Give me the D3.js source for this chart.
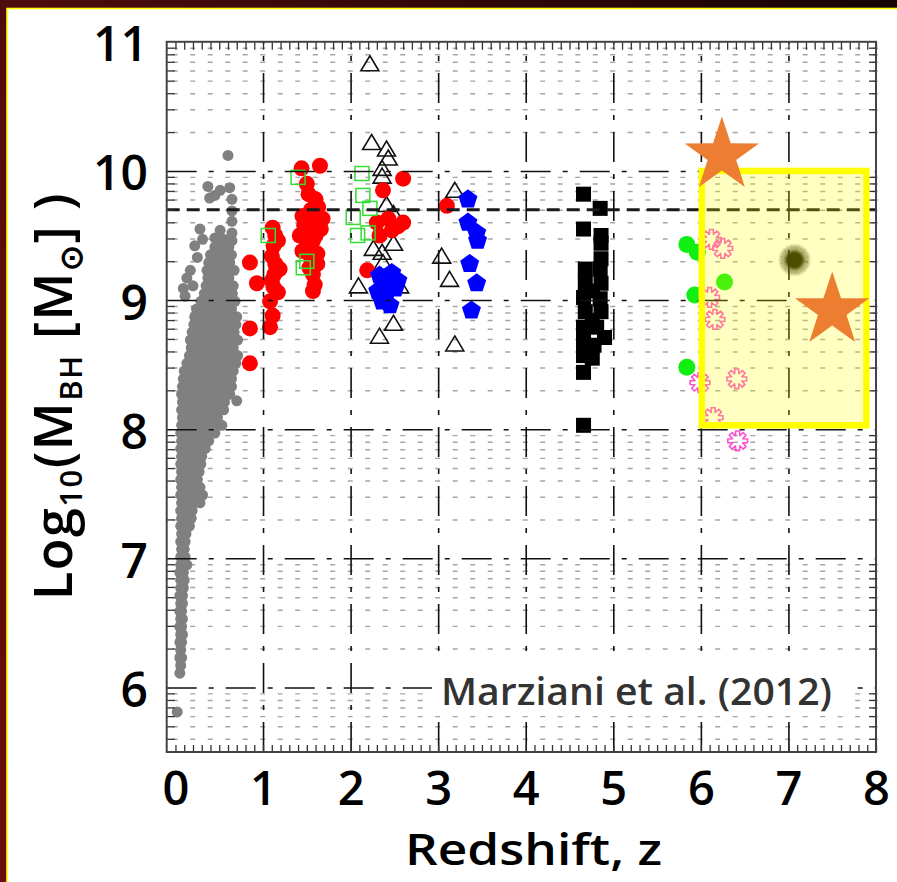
<!DOCTYPE html>
<html><head><meta charset="utf-8">
<script src="https://cdn.jsdelivr.net/npm/d3@7"></script>
<style>html,body{margin:0;padding:0;background:#fff;}svg{display:block}</style>
</head><body>
<svg id="chart" width="897" height="882"></svg>
<script>
// ---- tick labels ----
const xTickValues = [0, 1, 2, 3, 4, 5, 6, 7, 8];
const yTickValues = [6, 7, 8, 9, 10, 11];
const refMass = 9.7;

// ---- low-redshift quasar cloud: rows of [log M, [z, ...]] ----
const grayRows = [
  [6.11, [0.05]], [6.17, [0.06]], [6.23, [0.05, 0.07]], [6.29, [0.06]],
  [6.35, [0.05, 0.07]], [6.41, [0.06, 0.08]], [6.47, [0.05, 0.07]], [6.53, [0.06, 0.08]],
  [6.59, [0.05, 0.07]], [6.65, [0.06, 0.08]], [6.71, [0.05, 0.08]], [6.77, [0.06, 0.09]],
  [6.83, [0.06, 0.10]], [6.89, [0.05, 0.09]], [6.95, [0.06, 0.10, 0.13]], [7.01, [0.06, 0.11]],
  [7.07, [0.07, 0.10]], [7.13, [0.06, 0.11]], [7.19, [0.07, 0.12]], [7.25, [0.06, 0.11, 0.16]],
  [7.31, [0.07, 0.13, 0.18]], [7.37, [0.06, 0.12, 0.19]], [7.43, [0.07, 0.14, 0.21, 0.28]],
  [7.49, [0.06, 0.13, 0.20, 0.27, 0.31]], [7.55, [0.07, 0.14, 0.21, 0.28]],
  [7.61, [0.06, 0.12, 0.19, 0.25]], [7.67, [0.07, 0.14, 0.21, 0.27]],
  [7.73, [0.06, 0.13, 0.20, 0.29]], [7.79, [0.07, 0.14, 0.22, 0.30]],
  [7.85, [0.06, 0.13, 0.20, 0.27, 0.34]], [7.91, [0.07, 0.14, 0.22, 0.30, 0.38]],
  [7.97, [0.06, 0.13, 0.21, 0.29, 0.37, 0.45]], [8.03, [0.07, 0.15, 0.23, 0.31, 0.39, 0.47, 0.53]],
  [8.09, [0.08, 0.16, 0.24, 0.32, 0.40, 0.48]], [8.15, [0.07, 0.15, 0.23, 0.31, 0.39, 0.47, 0.55]],
  [8.21, [0.08, 0.16, 0.24, 0.32, 0.40, 0.48, 0.56]], [8.27, [0.07, 0.15, 0.23, 0.31, 0.39, 0.47, 0.55, 0.62]],
  [8.33, [0.08, 0.16, 0.24, 0.32, 0.40, 0.48, 0.56, 0.64]], [8.39, [0.09, 0.17, 0.25, 0.33, 0.41, 0.49, 0.57, 0.64]],
  [8.45, [0.10, 0.18, 0.26, 0.34, 0.42, 0.50, 0.58, 0.66]], [8.51, [0.13, 0.21, 0.29, 0.37, 0.45, 0.53, 0.61, 0.69]],
  [8.57, [0.16, 0.24, 0.32, 0.40, 0.48, 0.56, 0.64, 0.71]], [8.63, [0.18, 0.26, 0.34, 0.42, 0.50, 0.58, 0.66]],
  [8.69, [0.17, 0.25, 0.33, 0.41, 0.49, 0.57, 0.65, 0.71]], [8.75, [0.19, 0.27, 0.35, 0.43, 0.51, 0.59, 0.67]],
  [8.81, [0.21, 0.29, 0.37, 0.45, 0.53, 0.61, 0.69]], [8.87, [0.22, 0.30, 0.38, 0.46, 0.54, 0.62, 0.70]],
  [8.93, [0.24, 0.32, 0.40, 0.48, 0.56, 0.64]], [8.99, [0.29, 0.37, 0.45, 0.53, 0.61, 0.68]],
  [9.05, [0.33, 0.41, 0.49, 0.57, 0.65]], [9.11, [0.35, 0.43, 0.51, 0.59, 0.66]],
  [9.17, [0.37, 0.45, 0.53, 0.61]], [9.23, [0.36, 0.44, 0.52, 0.60, 0.67]],
  [9.29, [0.38, 0.46, 0.54, 0.62]], [9.35, [0.40, 0.48, 0.56, 0.64]],
  [9.41, [0.45, 0.53, 0.61]], [9.47, [0.47, 0.55, 0.63]]
];
// scattered low-z objects outside the dense cloud: [z, log M]
const grayScatter = [
  [0.09, 9.09], [0.20, 9.11], [0.13, 9.17], [0.17, 9.23], [0.11, 9.03], [0.22, 9.42],
  [0.28, 9.55], [0.25, 9.33], [0.31, 9.47], [0.45, 9.48], [0.51, 9.54], [0.645, 9.46],
  [0.645, 9.52], [0.645, 9.61], [0.645, 9.69], [0.645, 9.78], [0.62, 9.87], [0.37, 9.88],
  [0.51, 9.85], [0.45, 9.81], [0.39, 9.79], [0.60, 10.12], [0.70, 8.22], [0.02, 5.81]
];
const redPoints = [
  [1.44, 10.02], [1.65, 10.04], [1.50, 9.90], [1.52, 9.82], [1.60, 9.78], [1.63, 9.72], [1.55, 9.70],
  [1.68, 9.63], [1.58, 9.62], [1.47, 9.58], [1.42, 9.50], [1.57, 9.46], [1.50, 9.42], [1.62, 9.36],
  [1.55, 9.32], [1.62, 9.28], [1.57, 9.20], [1.59, 9.12], [1.57, 9.07],
  [1.45, 9.65], [1.52, 9.55], [1.45, 9.38], [1.53, 9.25], [1.60, 9.50], [1.66, 9.55],
  [1.11, 9.56], [1.17, 9.46], [1.12, 9.42], [1.10, 9.34], [1.14, 9.28], [1.19, 9.24], [1.10, 9.15],
  [1.14, 9.50], [1.13, 9.20], [1.12, 9.10],
  [1.17, 9.06], [1.08, 8.99], [0.85, 9.29], [0.93, 9.13], [1.11, 8.88], [1.08, 8.79], [0.85, 8.78], [0.85, 8.51],
  [2.60, 9.94], [2.37, 9.85], [2.30, 9.60], [2.43, 9.63], [2.54, 9.57], [2.60, 9.60], [2.33, 9.50],
  [2.47, 9.54], [2.19, 9.23], [3.10, 9.73]
];
const bluePoints = [
  [2.33, 9.19], [2.47, 9.21], [2.39, 9.11], [2.51, 9.09], [2.36, 8.99], [2.45, 8.96], [2.31, 9.07],
  [2.54, 9.15], [2.40, 9.03], [3.34, 9.78], [3.34, 9.60], [3.44, 9.52], [3.45, 9.46], [3.36, 9.28],
  [3.44, 9.13], [3.38, 8.92]
];
const greenSquares = [
  [1.40, 9.95], [1.06, 9.50], [1.50, 9.30], [1.46, 9.25], [2.13, 9.98], [2.14, 9.81],
  [2.22, 9.71], [2.03, 9.64], [2.08, 9.50], [2.20, 9.52]
];
const openTriangles = [
  [2.22, 10.83], [2.24, 10.22], [2.41, 10.17], [2.43, 10.10], [2.36, 10.02], [2.36, 9.96],
  [2.41, 9.74], [2.49, 9.67], [2.26, 9.40], [2.36, 9.37], [2.49, 9.44], [2.37, 9.29],
  [2.09, 9.11], [2.56, 9.11], [2.49, 8.82], [2.33, 8.72], [3.04, 9.34], [3.13, 9.16],
  [3.19, 8.66], [3.19, 9.85]
];
const blackSquares = [
  [4.66, 9.82], [4.85, 9.71], [4.66, 9.55], [4.86, 9.50], [4.86, 9.44], [4.86, 9.32],
  [4.68, 9.24], [4.85, 9.24], [4.68, 9.13], [4.86, 9.13], [4.76, 9.07], [4.66, 9.02],
  [4.85, 9.01], [4.68, 8.91], [4.86, 8.91], [4.76, 8.84], [4.66, 8.79], [4.81, 8.79],
  [4.90, 8.71], [4.66, 8.68], [4.78, 8.65], [4.66, 8.57], [4.76, 8.55], [4.66, 8.44], [4.66, 8.03]
];
const greenCircles = [[5.84, 9.43], [5.96, 9.37], [6.27, 9.14], [5.93, 9.04], [5.84, 8.48]];
const pinkGears = [
  [6.12, 9.47], [6.25, 9.40], [6.10, 9.02], [6.16, 8.85], [5.99, 8.36], [6.41, 8.39], [6.14, 8.09], [6.42, 7.91]
];
const burstPoint = [[7.07, 9.31]];
const starPoints = [[6.24, 10.12], [7.50, 8.92]];
const highlightZ = [6.01, 7.89];
const highlightM = [8.03, 10.0];

// ---- layout ----
const svg = d3.select("#chart");
const W = 897, H = 882;
const plot = {left: 166.7, right: 876, top: 41.8, bottom: 752};
const x = d3.scaleLinear().domain([-0.1, 8]).range([plot.left, plot.right]);
const y = d3.scaleLinear().domain([5.5, 11]).range([plot.bottom, plot.top]);
const pw = plot.right - plot.left, ph = plot.bottom - plot.top;
const font = "'Open Sans', 'Noto Sans', sans-serif";

// frame background
const defs = svg.append("defs");
const bg = defs.append("linearGradient").attr("id", "bgGrad").attr("x1", 0).attr("y1", 1).attr("x2", 1).attr("y2", 0);
bg.append("stop").attr("offset", "0%").attr("stop-color", "#6a0c0c");
bg.append("stop").attr("offset", "40%").attr("stop-color", "#5a0d0e");
bg.append("stop").attr("offset", "100%").attr("stop-color", "#150406");
const blur = defs.append("filter").attr("id", "fuzz").attr("x", "-50%").attr("y", "-50%").attr("width", "200%").attr("height", "200%");
blur.append("feGaussianBlur").attr("stdDeviation", 1.1);

svg.append("rect").attr("width", W).attr("height", H).attr("fill", "url(#bgGrad)");
svg.append("rect").attr("x", 7).attr("y", 8.5).attr("width", W).attr("height", H).attr("fill", "#fff")
  .attr("stroke", "#ffff00").attr("stroke-width", 1.6);

// minor grid (log sub-decades), drawn under the markers
const minorY = [];
for (let d = 5; d <= 10; d++) for (let k = 2; k <= 9; k++) {
  const v = d + Math.log10(k);
  if (v > 5.5 && v < 11) minorY.push(v);
}
const minorGrid = svg.append("g").attr("transform", `translate(${plot.left},0)`)
  .call(d3.axisLeft(y).tickValues(minorY).tickSize(-pw).tickFormat(""));
minorGrid.select(".domain").remove();
minorGrid.selectAll("line").attr("stroke", "#a5a5a5").attr("stroke-width", 1.4)
  .attr("stroke-dasharray", "5,12.5").attr("transform", "translate(6,0)");

// ---- markers ----
const marks = svg.append("g");
const grayAll = grayRows.flatMap(([m, zs]) => zs.map(z => [z, m])).concat(grayScatter);
marks.selectAll("circle.gray").data(grayAll).join("circle").attr("class", "gray")
  .attr("cx", d => x(d[0])).attr("cy", d => y(d[1])).attr("r", 5.5).attr("fill", "#808080");

marks.selectAll("path.tri").data(openTriangles).join("path").attr("class", "tri")
  .attr("transform", d => `translate(${x(d[0])},${y(d[1])})`)
  .attr("d", "M0,-8 L9,7 L-9,7 Z").attr("fill", "none").attr("stroke", "#111").attr("stroke-width", 1.6);

marks.selectAll("circle.red").data(redPoints).join("circle").attr("class", "red")
  .attr("cx", d => x(d[0])).attr("cy", d => y(d[1])).attr("r", 8).attr("fill", "#ff0000");

marks.selectAll("rect.gsq").data(greenSquares).join("rect").attr("class", "gsq")
  .attr("x", d => x(d[0]) - 7).attr("y", d => y(d[1]) - 7).attr("width", 14).attr("height", 14)
  .attr("fill", "none").attr("stroke", "#33dd33").attr("stroke-width", 1.5);

const pentagon = d3.range(5).map(i => {
  const a = -Math.PI / 2 + i * 2 * Math.PI / 5;
  return [10 * Math.cos(a), 10 * Math.sin(a)];
});
marks.selectAll("path.pent").data(bluePoints).join("path").attr("class", "pent")
  .attr("transform", d => `translate(${x(d[0])},${y(d[1])})`)
  .attr("d", "M" + pentagon.join("L") + "Z").attr("fill", "#0000ff");

marks.selectAll("rect.bsq").data(blackSquares).join("rect").attr("class", "bsq")
  .attr("x", d => x(d[0]) - 7.5).attr("y", d => y(d[1]) - 7.5).attr("width", 15).attr("height", 15)
  .attr("fill", "#000");

marks.selectAll("circle.gc").data(greenCircles).join("circle").attr("class", "gc")
  .attr("cx", d => x(d[0])).attr("cy", d => y(d[1])).attr("r", 8.5).attr("fill", "#11ee11");

// cog outline: 8 flat-topped teeth
const gear = [];
for (let t = 0; t < 8; t++) {
  const a0 = t * Math.PI / 4;
  [[-0.24, 5.6], [-0.12, 10], [0.12, 10], [0.24, 5.6]].forEach(([da, r]) =>
    gear.push([r * Math.cos(a0 + da * 1.6), r * Math.sin(a0 + da * 1.6)]));
}
marks.selectAll("path.gear").data(pinkGears).join("path").attr("class", "gear")
  .attr("transform", d => `translate(${x(d[0])},${y(d[1])})`)
  .attr("d", "M" + gear.join("L") + "Z").attr("fill", "none").attr("stroke", "#ff4fcf").attr("stroke-width", 1.6);

// fuzzy dark marker
const burst = marks.selectAll("g.burst").data(burstPoint).join("g").attr("class", "burst")
  .attr("transform", d => `translate(${x(d[0])},${y(d[1])})`).attr("filter", "url(#fuzz)");
burst.append("circle").attr("r", 9).attr("fill", "#141400");
burst.selectAll("line").data(d3.range(24)).join("line")
  .attr("x1", 0).attr("y1", 0)
  .attr("x2", i => 15 * Math.cos(i * Math.PI / 12)).attr("y2", i => 15 * Math.sin(i * Math.PI / 12))
  .attr("stroke", "#141400").attr("stroke-width", 1.3);

// ---- major grid (dash-dot) on top of markers ----
const gridV = svg.append("g").attr("transform", `translate(0,${plot.bottom})`)
  .call(d3.axisBottom(x).tickValues(xTickValues.slice(1, -1)).tickSize(-ph).tickFormat(""));
gridV.select(".domain").remove();
gridV.selectAll("line").attr("stroke", "#111").attr("stroke-width", 1.6).attr("stroke-dasharray", "30,12,5,12");
const gridH = svg.append("g").attr("transform", `translate(${plot.left},0)`)
  .call(d3.axisLeft(y).tickValues(yTickValues.slice(0, -1)).tickSize(-pw).tickFormat(""));
gridH.select(".domain").remove();
gridH.selectAll("line").attr("stroke", "#111").attr("stroke-width", 1.6).attr("stroke-dasharray", "30,12,5,12");

// reference mass line
svg.append("line").attr("x1", plot.left).attr("x2", plot.right)
  .attr("y1", y(refMass)).attr("y2", y(refMass))
  .attr("stroke", "#1a1a1a").attr("stroke-width", 3).attr("stroke-dasharray", "13,7");

// ---- frame ticks ----
const zMinor = d3.range(0, 81).map(i => i / 10);
const tickStyle = g => { g.select(".domain").remove(); g.selectAll("line").attr("stroke", "#333").attr("stroke-width", 1.3); };
svg.append("g").attr("transform", `translate(0,${plot.bottom})`)
  .call(d3.axisBottom(x).tickValues(zMinor).tickSize(-7).tickFormat("")).call(tickStyle);
svg.append("g").attr("transform", `translate(0,${plot.top})`)
  .call(d3.axisTop(x).tickValues(zMinor).tickSize(-8).tickFormat("")).call(tickStyle);
svg.append("g").attr("transform", `translate(${plot.left},0)`)
  .call(d3.axisLeft(y).tickValues(minorY).tickSize(-8).tickFormat("")).call(tickStyle);
svg.append("g").attr("transform", `translate(${plot.right},0)`)
  .call(d3.axisRight(y).tickValues(minorY).tickSize(-7).tickFormat("")).call(tickStyle);
svg.append("rect").attr("x", plot.left).attr("y", plot.top).attr("width", pw).attr("height", ph)
  .attr("fill", "none").attr("stroke", "#444").attr("stroke-width", 2);

// ---- highlighted redshift window ----
svg.append("rect")
  .attr("x", x(highlightZ[0])).attr("y", y(highlightM[1]))
  .attr("width", x(highlightZ[1]) - x(highlightZ[0])).attr("height", y(highlightM[0]) - y(highlightM[1]))
  .attr("fill", "rgba(255,255,0,0.24)").attr("stroke", "#ffff00").attr("stroke-width", 6.5);

// five-pointed stars
const star = d3.range(10).map(i => {
  const a = -Math.PI / 2 + i * Math.PI / 5, r = i % 2 ? 15 : 39;
  return [r * Math.cos(a), r * Math.sin(a)];
});
svg.selectAll("path.star").data(starPoints).join("path").attr("class", "star")
  .attr("transform", d => `translate(${x(d[0])},${y(d[1])})`)
  .attr("d", "M" + star.join("L") + "Z").attr("fill", "#ed7d31");

// ---- citation label ----
svg.append("rect").attr("x", 432).attr("y", 662).attr("width", 418).attr("height", 52).attr("fill", "#fff");
svg.append("text").attr("x", 441).attr("y", 705).attr("font-family", font).attr("font-weight", 600)
  .attr("font-size", 38).attr("fill", "#333").attr("textLength", 391).attr("lengthAdjust", "spacingAndGlyphs")
  .text("Marziani et al. (2012)");

// ---- tick labels ----
const xl = svg.append("g").attr("transform", `translate(0,805)`)
  .call(d3.axisBottom(x).tickValues(xTickValues).tickSize(0).tickPadding(0).tickFormat(d3.format("d")));
xl.select(".domain").remove();
xl.selectAll("text").attr("dy", 0).attr("font-family", font).attr("font-weight", 600).attr("font-size", 47).attr("fill", "#000");
const yl = svg.append("g").attr("transform", `translate(148,19)`)
  .call(d3.axisLeft(y).tickValues(yTickValues).tickSize(0).tickPadding(0).tickFormat(d3.format("d")));
yl.select(".domain").remove();
yl.selectAll("text").attr("dy", 0).attr("font-family", font).attr("font-weight", 600).attr("font-size", 48).attr("fill", "#000");

// ---- axis titles ----
svg.append("text").attr("x", 405).attr("y", 865)
  .attr("font-family", font).attr("font-weight", 600).attr("font-size", 44).attr("fill", "#000")
  .attr("textLength", 257).attr("lengthAdjust", "spacingAndGlyphs")
  .text("Redshift, z");

const yt = svg.append("text").attr("transform", "translate(72,600) rotate(-90)")
  .attr("font-family", font).attr("font-weight", 600).attr("font-size", 52).attr("fill", "#000")
  .attr("letter-spacing", 1.5);
yt.append("tspan").text("Log");
yt.append("tspan").attr("font-size", 31).attr("dy", 10).text("10");
yt.append("tspan").attr("dy", -10).text("(M");
yt.append("tspan").attr("font-size", 31).attr("dy", 10).text("BH");
yt.append("tspan").attr("dy", -10).text(" [M");
yt.append("tspan").attr("font-size", 31).attr("dy", 10).text("\u2299");
yt.append("tspan").attr("dy", -10).text("] )");
</script>
</body></html>
